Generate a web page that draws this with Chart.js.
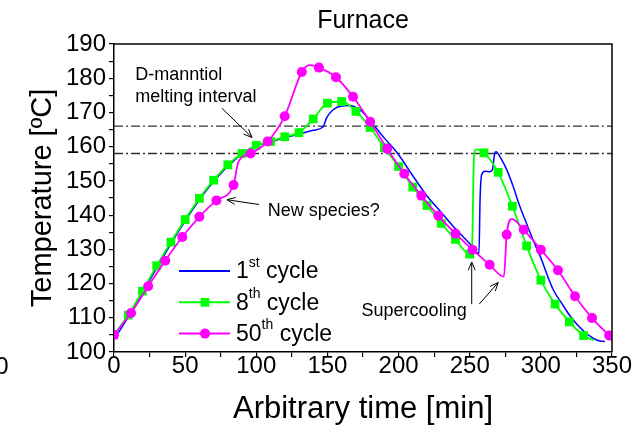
<!DOCTYPE html>
<html>
<head>
<meta charset="utf-8">
<script src="https://cdn.jsdelivr.net/npm/chart.js@4.4.1/dist/chart.umd.min.js"></script>
<style>
  html, body { margin: 0; padding: 0; background: #fff; }
</style>
</head>
<body>
<canvas id="grafico" width="636" height="431"></canvas>
<script>
// 1st cycle (no markers)
const c1Time = [0, 10, 20, 30, 40, 50, 60, 70, 80, 90, 100, 110, 120, 130, 140, 147, 149.5, 154, 160, 165,
                170.5, 175, 180, 190, 199, 210, 220, 230, 240, 250, 256.5, 257.3, 258.4, 261, 264, 266, 267.5, 268.5, 272, 276,
                280, 285, 290, 295, 300, 304, 308.7, 315, 320.4, 326, 332, 337, 341.5, 345];
const c1Temp = [103.6, 110.2, 117.2, 124.6, 131.6, 138.3, 144.5, 149.8, 154.3, 157.8, 160.2, 161.4, 162.6, 163.7, 164.8, 165.8, 168.5, 170.8, 171.9, 172,
                171.4, 170, 167.6, 162.5, 158.2, 151.5, 145.6, 140.8, 136, 131.7, 128.8, 145, 151.8, 152.8, 152.7, 153.3, 158, 158.5, 156.5, 153.3,
                149, 142.8, 137.5, 132.2, 127.5, 123, 118.2, 114, 110.6, 107.8, 105.4, 104, 103.2, 103.1];

// 8th cycle (square markers where c8Mark = 1)
const c8Time = [0, 10, 20, 30, 40, 50, 60, 70, 80, 90, 100, 110, 120, 130, 140, 150, 160, 170, 180, 190,
                200, 210, 220, 230, 240, 250, 251.5, 253, 254.5, 260, 270, 280, 290, 300, 310, 320, 330, 337];
const c8Temp = [105, 110.8, 117.8, 125.2, 132.1, 138.7, 144.9, 150.2, 154.7, 158, 160.4, 161.5, 162.9, 164.1, 168.1, 172.7, 173.2, 170.3, 165.6, 159.7,
                154.2, 148.2, 142.8, 137.6, 132.9, 128.6, 129, 157, 159.2, 158.2, 152.5, 142.6, 131, 121, 114, 108.8, 104.8, 103.4];
const c8Mark = [1, 1, 1, 1, 1, 1, 1, 1, 1, 1, 1, 1, 1, 1, 1, 1, 1, 1, 1, 1,
                1, 1, 1, 1, 1, 1, 0, 0, 0, 1, 1, 1, 1, 1, 1, 1, 1, 0];

// 50th cycle (round markers where c50Mark = 1)
const c50Time = [0, 12, 24, 36, 48, 60, 72, 84, 87, 90, 96, 108, 120, 132, 137.5, 144, 156, 168, 180, 192,
                 204, 216, 228, 240, 252, 264, 274, 276, 279.5, 288, 300, 312, 324, 336, 348];
const c50Temp = [105, 111.4, 119.2, 126.7, 133.6, 139.5, 144.3, 148.8, 155, 157, 158, 161.5, 168.9, 181.8, 183.8, 183.1, 180.3, 174.6, 167.3, 159.4,
                 152.1, 145.7, 139.8, 134.6, 129.9, 125.5, 122, 134.3, 138.9, 135.7, 129.9, 123.9, 116.3, 109.9, 104.8];
const c50Mark = [1, 1, 1, 1, 1, 1, 1, 1, 0, 0, 1, 1, 1, 1, 0, 1, 1, 1, 1, 1,
                 1, 1, 1, 1, 1, 1, 0, 1, 0, 1, 1, 1, 1, 1, 1];

// D-mannitol melting interval (ºC)
const meltBounds = [158, 166];

const legendNum = ['1', '8', '50'];
const legendSup = ['st', 'th', 'th'];

const FONTE = "'Liberation Sans', Arial, sans-serif";

function pontos(t, v) {
    return t.map((x, i) => ({ x: x, y: v[i] }));
}

const datasets = [
    {
        label: '50th cycle', data: pontos(c50Time, c50Temp), order: 0,
        borderColor: '#ff00ff', backgroundColor: '#ff00ff', borderWidth: 1.8,
        pointStyle: 'circle', pointRadius: ctx => c50Mark[ctx.dataIndex] ? 5 : 0,
        pointBorderWidth: 0, cubicInterpolationMode: 'monotone'
    },
    {
        label: '8th cycle', data: pontos(c8Time, c8Temp), order: 1,
        borderColor: '#00ff00', backgroundColor: '#00ff00', borderWidth: 1.8,
        pointStyle: 'rect', pointRadius: ctx => c8Mark[ctx.dataIndex] ? 6.2 : 0,
        pointBorderWidth: 0, cubicInterpolationMode: 'monotone'
    },
    {
        label: '1st cycle', data: pontos(c1Time, c1Temp), order: 2,
        borderColor: '#0000ff', backgroundColor: '#0000ff', borderWidth: 1.5,
        pointRadius: 0, cubicInterpolationMode: 'monotone'
    }
];

// dash-dot lines bounding the melting interval
meltBounds.forEach(b => {
    datasets.push({
        label: 'melt ' + b, data: [{ x: 0, y: b }, { x: 350, y: b }], order: 3,
        borderColor: '#333333', borderWidth: 1.3, borderDash: [9, 3, 2, 3],
        pointRadius: 0
    });
});

// text and arrows, in data coordinates
const notas = [
    { texto: 'D-manntiol', x: 15, y: 180.9 },
    { texto: 'melting interval', x: 15, y: 174.5 },
    { texto: 'New species?', x: 108, y: 141.2 },
    { texto: 'Supercooling', x: 174, y: 112 }
];
const setas = [
    { de: [75.9, 171.2], para: [97, 162.7] },
    { de: [101.9, 143.1], para: [79.4, 144.5] },
    { de: [251.4, 114], para: [251.4, 126.3] },
    { de: [256.7, 114], para: [270, 120.3] }
];

function desenhaSeta(ctx, x1, y1, x2, y2) {
    const ang = Math.atan2(y2 - y1, x2 - x1);
    const tam = 9;
    ctx.beginPath();
    ctx.moveTo(x1, y1);
    ctx.lineTo(x2, y2);
    ctx.moveTo(x2 - tam * Math.cos(ang - 0.4), y2 - tam * Math.sin(ang - 0.4));
    ctx.lineTo(x2, y2);
    ctx.lineTo(x2 - tam * Math.cos(ang + 0.4), y2 - tam * Math.sin(ang + 0.4));
    ctx.stroke();
}

const extras = {
    id: 'extras',
    afterDraw(chart) {
        const ctx = chart.ctx;
        const a = chart.chartArea;
        const sx = chart.scales.x, sy = chart.scales.y;
        ctx.save();

        // top and right frame lines
        ctx.strokeStyle = '#000';
        ctx.lineWidth = 1.5;
        ctx.beginPath();
        ctx.moveTo(a.left, a.top);
        ctx.lineTo(a.right, a.top);
        ctx.lineTo(a.right, a.bottom);
        ctx.stroke();

        // title
        ctx.fillStyle = '#000';
        ctx.font = '25px ' + FONTE;
        ctx.textAlign = 'center';
        ctx.textBaseline = 'middle';
        ctx.fillText('Furnace', (a.left + a.right) / 2, 21);

        // neighbouring panel's last tick label, cut by the edge
        ctx.font = '24px ' + FONTE;
        ctx.fillText('0', 2, a.bottom + 15);

        // notes
        ctx.font = '18px ' + FONTE;
        ctx.textAlign = 'left';
        notas.forEach(n => {
            ctx.fillText(n.texto, sx.getPixelForValue(n.x), sy.getPixelForValue(n.y));
        });
        ctx.lineWidth = 1;
        setas.forEach(s => {
            desenhaSeta(ctx,
                sx.getPixelForValue(s.de[0]), sy.getPixelForValue(s.de[1]),
                sx.getPixelForValue(s.para[0]), sy.getPixelForValue(s.para[1]));
        });

        // legend with superscripts
        [2, 1, 0].forEach((di, i) => {
            const ds = chart.data.datasets[di];
            const y = 271 + i * 31.3;
            ctx.strokeStyle = ds.borderColor;
            ctx.lineWidth = 2;
            ctx.beginPath();
            ctx.moveTo(179, y);
            ctx.lineTo(230, y);
            ctx.stroke();
            if (di !== 2) {
                ctx.fillStyle = ds.backgroundColor;
                Chart.helpers.drawPoint(ctx, {
                    pointStyle: ds.pointStyle, radius: di === 1 ? 6.2 : 5, rotation: 0, borderWidth: 0
                }, 205, y);
            }
            ctx.fillStyle = '#000';
            ctx.textBaseline = 'middle';
            ctx.font = '23px ' + FONTE;
            let x = 236;
            ctx.fillText(legendNum[i], x, y + 1);
            x += ctx.measureText(legendNum[i]).width;
            ctx.font = '14px ' + FONTE;
            ctx.fillText(legendSup[i], x, y - 8);
            x += ctx.measureText(legendSup[i]).width;
            ctx.font = '23px ' + FONTE;
            ctx.fillText(' cycle', x, y + 1);
        });

        ctx.restore();
    }
};

new Chart(document.getElementById('grafico'), {
    type: 'line',
    data: { datasets: datasets },
    options: {
        responsive: false,
        animation: false,
        layout: { padding: { left: 4, right: 24, top: 44, bottom: 0 } },
        plugins: { legend: { display: false }, tooltip: { enabled: false } },
        scales: {
            x: {
                type: 'linear', min: 0, max: 350,
                afterFit: s => { s.height = 79; },
                ticks: {
                    stepSize: 25, autoSkip: false, maxRotation: 0, padding: -5,
                    color: '#000', font: { family: FONTE, size: 24 },
                    callback: v => v % 50 === 0 ? v : ''
                },
                grid: { drawOnChartArea: false, drawTicks: true, tickLength: 5, color: '#000', lineWidth: 1.2 },
                border: { display: true, color: '#000', width: 1.5 },
                title: {
                    display: true, text: 'Arbitrary time [min]', color: '#000',
                    font: { family: FONTE, size: 31 }, padding: { top: 0, bottom: 3 }
                }
            },
            y: {
                min: 100, max: 190,
                afterFit: s => { s.width = 110; },
                ticks: {
                    stepSize: 5, autoSkip: false, padding: 3,
                    color: '#000', font: { family: FONTE, size: 24 },
                    callback: v => v % 10 === 0 ? v : ''
                },
                grid: { drawOnChartArea: false, drawTicks: true, tickLength: 5, color: '#000', lineWidth: 1.2 },
                border: { display: true, color: '#000', width: 1.5 },
                title: {
                    display: true, text: 'Temperature [ºC]', color: '#000',
                    font: { family: FONTE, size: 29 }, padding: { top: 22, bottom: 0 }
                }
            }
        }
    },
    plugins: [extras]
});
</script>
</body>
</html>
